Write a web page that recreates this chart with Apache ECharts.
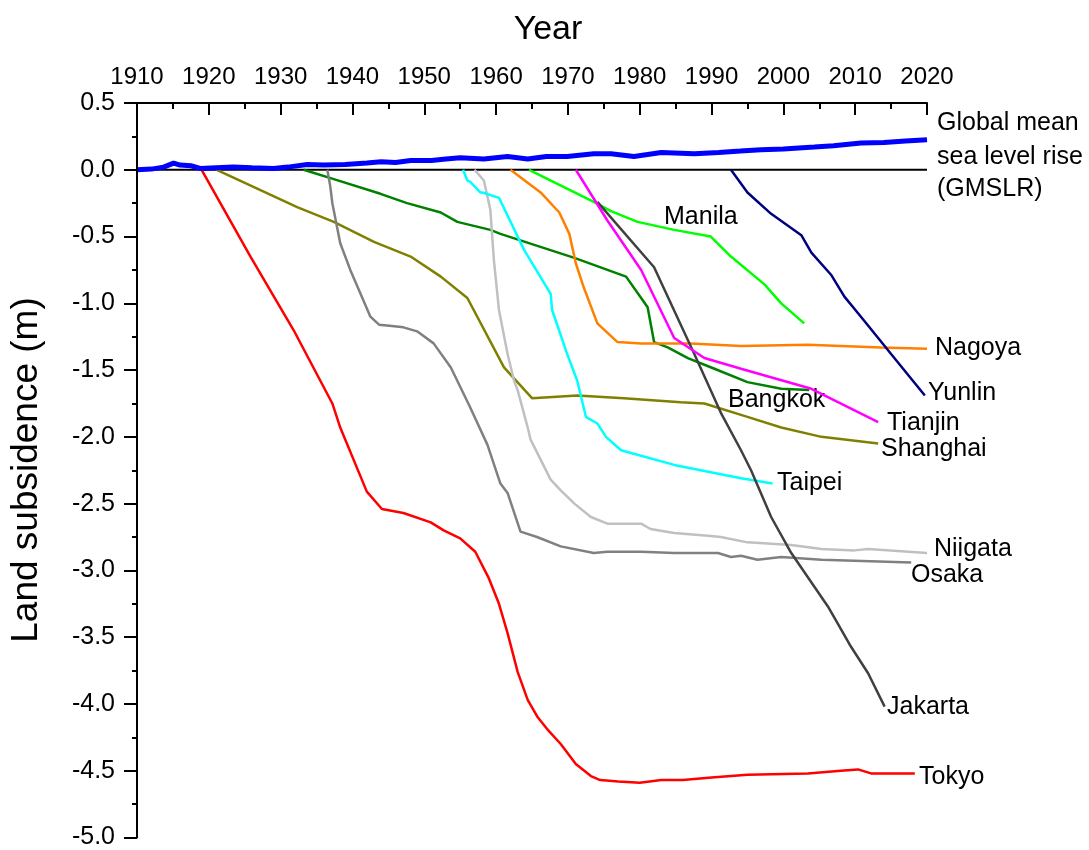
<!DOCTYPE html>
<html>
<head>
<meta charset="utf-8">
<title>Land subsidence and global mean sea level rise</title>
<script src="https://cdn.jsdelivr.net/npm/echarts@6/dist/echarts.min.js"></script>
<style>
  html, body { margin: 0; padding: 0; background: #fff; }
  #chart { width: 1089px; height: 850px; }
</style>
</head>
<body>
<div id="chart"></div>
<script>
// Axis ranges
const yearRange = [1910, 2020];
const yearStep = 10;
const levelRange = [-5.0, 0.5];
const levelStep = 0.5;

// Cumulative land subsidence (m) per city, as [year, value]
const tokyo = [[1919.0,0],[1925.8,-0.65],[1931.8,-1.20],[1937.2,-1.75],[1938.3,-1.93],[1942.0,-2.41],[1944.1,-2.54],[1947.1,-2.57],[1950.9,-2.64],[1952.7,-2.70],[1955.0,-2.76],[1957.1,-2.86],[1959.0,-3.06],[1960.4,-3.25],[1961.6,-3.47],[1963.0,-3.76],[1964.4,-3.97],[1965.8,-4.10],[1967.3,-4.20],[1969.0,-4.30],[1971.1,-4.45],[1973.2,-4.54],[1974.5,-4.57],[1977,-4.58],[1980,-4.59],[1983,-4.57],[1986,-4.57],[1990,-4.55],[1995,-4.53],[2003.4,-4.52],[2008,-4.50],[2010.4,-4.49],[2012.2,-4.52],[2018.3,-4.52]];
const osaka = [[1936.5,0],[1936.9,-0.12],[1937.2,-0.25],[1938.3,-0.55],[1939.7,-0.75],[1942.5,-1.10],[1943.7,-1.16],[1945.5,-1.17],[1947.1,-1.18],[1949.0,-1.21],[1951.3,-1.30],[1953.7,-1.48],[1956.4,-1.78],[1958.8,-2.06],[1960.6,-2.35],[1961.6,-2.42],[1963.4,-2.71],[1965.7,-2.75],[1969.0,-2.82],[1973.6,-2.87],[1975.5,-2.86],[1980.2,-2.86],[1984.8,-2.87],[1990.9,-2.87],[1992.7,-2.90],[1994.1,-2.89],[1996.4,-2.92],[1999.7,-2.90],[2005.3,-2.92],[2017.8,-2.94]];
const niigata = [[1957.0,0],[1958.3,-0.08],[1959.2,-0.30],[1959.7,-0.68],[1960.4,-1.05],[1961.6,-1.38],[1962.5,-1.58],[1963.0,-1.65],[1964.4,-1.93],[1964.8,-2.02],[1966.2,-2.17],[1967.6,-2.32],[1969.0,-2.40],[1970.9,-2.50],[1973.2,-2.60],[1975.5,-2.65],[1977.8,-2.65],[1980.2,-2.65],[1981.5,-2.69],[1984.8,-2.72],[1989.5,-2.74],[1991.3,-2.75],[1995.0,-2.79],[2001.1,-2.81],[2005.3,-2.84],[2009.9,-2.85],[2011.8,-2.84],[2020.0,-2.87]];
const shanghai = [[1921.1,0],[1932.3,-0.28],[1937.4,-0.39],[1943.0,-0.54],[1948.1,-0.65],[1952.3,-0.80],[1956.0,-0.96],[1961.1,-1.48],[1965.0,-1.71],[1971.3,-1.69],[1977.8,-1.71],[1985.7,-1.74],[1989.0,-1.75],[1995.0,-1.85],[1999.7,-1.93],[2005.3,-2.00],[2013.2,-2.05]];
const bangkok = [[1933.2,0],[1937.4,-0.07],[1943.9,-0.18],[1947.6,-0.25],[1952.3,-0.32],[1954.6,-0.39],[1959.2,-0.45],[1960.6,-0.48],[1970.9,-0.66],[1978.1,-0.80],[1981.1,-1.03],[1982.0,-1.29],[1983.9,-1.33],[1986.7,-1.41],[1990.4,-1.49],[1995.0,-1.59],[1999.7,-1.64],[2003.6,-1.65]];
const taipei = [[1955.4,0],[1956.0,-0.08],[1956.4,-0.09],[1957.8,-0.17],[1958.1,-0.17],[1960.4,-0.21],[1963.9,-0.60],[1967.6,-0.93],[1967.8,-1.05],[1969.9,-1.38],[1971.3,-1.58],[1972.5,-1.85],[1974.1,-1.90],[1975.3,-2.00],[1977.4,-2.10],[1984.8,-2.21],[1994.1,-2.31],[1998.5,-2.35]];
const nagoya = [[1962.0,0],[1966.2,-0.17],[1968.8,-0.32],[1970.2,-0.48],[1971.1,-0.70],[1972.2,-0.88],[1974.1,-1.15],[1976.9,-1.29],[1980.2,-1.30],[1987.1,-1.30],[1994.1,-1.32],[2003.4,-1.31],[2013.6,-1.33],[2020.0,-1.34]];
const manila = [[1964.6,0],[1973.6,-0.24],[1976.0,-0.31],[1979.7,-0.39],[1984.8,-0.45],[1989.9,-0.50],[1992.7,-0.65],[1997.4,-0.86],[1999.7,-1.00],[2002.9,-1.15]];
const tianjin = [[1971.1,0],[1975.5,-0.38],[1980.2,-0.75],[1984.8,-1.26],[1989.0,-1.41],[1994.1,-1.49],[2003.9,-1.64],[2013.2,-1.89]];
const jakarta = [[1974.1,-0.24],[1982.0,-0.73],[1987.6,-1.38],[1991.3,-1.82],[1994.1,-2.10],[1995.5,-2.25],[1998.3,-2.60],[2001.1,-2.87],[2006.2,-3.27],[2007.6,-3.40],[2009.4,-3.57],[2011.8,-3.77],[2014.1,-4.02]];
const yunlin = [[1992.7,0],[1995.0,-0.17],[1998.3,-0.33],[2002.5,-0.49],[2003.9,-0.62],[2006.7,-0.79],[2008.5,-0.95],[2010.8,-1.10],[2013.2,-1.26],[2015.0,-1.38],[2019.7,-1.69]];

// Global mean sea level rise (m)
const gmslr = [[1910,0],[1912,0.005],[1913.7,0.02],[1915.1,0.05],[1916,0.035],[1917.5,0.03],[1918.8,0.01],[1921,0.015],[1923.4,0.02],[1926,0.015],[1929,0.01],[1931,0.02],[1933.7,0.04],[1936,0.035],[1939,0.04],[1942,0.05],[1944,0.06],[1946,0.055],[1948.1,0.07],[1951,0.07],[1953,0.08],[1955,0.09],[1958.3,0.08],[1961.6,0.10],[1964.4,0.08],[1967,0.10],[1969.9,0.10],[1973.6,0.12],[1976,0.12],[1979.2,0.10],[1983,0.13],[1987.6,0.12],[1991,0.13],[1994,0.14],[1996.9,0.15],[2000,0.155],[2004.3,0.17],[2007,0.18],[2010.8,0.20],[2014,0.205],[2017,0.215],[2020,0.225]];

const cities = [
  { name: 'Shanghai', data: shanghai, color: '#808000' },
  { name: 'Bangkok',  data: bangkok,  color: '#008000' },
  { name: 'Osaka',    data: osaka,    color: '#808080' },
  { name: 'Niigata',  data: niigata,  color: '#c0c0c0' },
  { name: 'Taipei',   data: taipei,   color: '#00ffff' },
  { name: 'Nagoya',   data: nagoya,   color: '#ff8000' },
  { name: 'Manila',   data: manila,   color: '#00ff00' },
  { name: 'Jakarta',  data: jakarta,  color: '#404040' },
  { name: 'Tianjin',  data: tianjin,  color: '#ff00ff' },
  { name: 'Yunlin',   data: yunlin,   color: '#000080' },
  { name: 'Tokyo',    data: tokyo,    color: '#ff0000' }
];

// Where each name is written (left edge x, vertical centre y)
const labelPlaces = {
  Manila: [664, 217], Nagoya: [935, 348], Yunlin: [928, 393], Tianjin: [887, 423],
  Shanghai: [881, 449], Bangkok: [728, 400], Taipei: [777, 483], Niigata: [934, 549],
  Osaka: [911, 575], Jakarta: [887, 707], Tokyo: [919, 777]
};

const FONT = '"Liberation Sans", Arial, Helvetica, sans-serif';
const INK = '#000000';

const chart = echarts.init(document.getElementById('chart'));

const series = [
  // horizontal reference line at zero
  {
    name: 'zero',
    type: 'line',
    data: [[yearRange[0], 0], [yearRange[1], 0]],
    showSymbol: false,
    silent: true,
    lineStyle: { color: '#000', width: 2 }
  },
  // top frame line along the year axis
  {
    name: 'top frame',
    type: 'line',
    data: [[yearRange[0], levelRange[1]], [yearRange[1], levelRange[1]]],
    showSymbol: false,
    silent: true,
    clip: false,
    z: 6,
    lineStyle: { color: INK, width: 2 }
  }
];
cities.forEach(c => {
  series.push({
    name: c.name,
    type: 'line',
    data: c.data,
    showSymbol: false,
    smooth: false,
    lineStyle: { color: c.color, width: 2.5 }
  });
});
series.push({
  name: 'GMSLR',
  type: 'line',
  data: gmslr,
  showSymbol: false,
  lineStyle: { color: '#0000ff', width: 5 }
});

function textEl(text, x, y, size, extra) {
  return Object.assign({
    type: 'text',
    x: x,
    y: y,
    style: { text: text, fill: '#000', font: size + 'px ' + FONT, textAlign: 'left', textVerticalAlign: 'middle' }
  }, extra || {});
}

const graphics = Object.keys(labelPlaces).map(name =>
  textEl(name, labelPlaces[name][0], labelPlaces[name][1], 25));
['Global mean', 'sea level rise', '(GMSLR)'].forEach((line, i) => {
  graphics.push(textEl(line, 937, [123, 157, 189][i], 25));
});
const yearTitle = textEl('Year', 548, 30, 34);
yearTitle.style.textAlign = 'center';
graphics.push(yearTitle);
const levelTitle = textEl('Land subsidence (m)', 27, 470, 37, { rotation: Math.PI / 2 });
levelTitle.style.textAlign = 'center';
graphics.push(levelTitle);

chart.setOption({
  animation: false,
  grid: { left: 137, right: 162, top: 103, bottom: 12 },
  xAxis: {
    type: 'value',
    position: 'top',
    z: 5,
    min: yearRange[0],
    max: yearRange[1],
    interval: yearStep,
    axisLine: { show: true, onZero: false, lineStyle: { color: INK, width: 2 } },
    axisTick: { show: true, inside: true, length: 12, lineStyle: { color: INK, width: 2 } },
    minorTick: { show: true, splitNumber: 2, length: 6, lineStyle: { color: INK, width: 2 } },
    axisLabel: { color: '#000', fontSize: 24, fontFamily: FONT, margin: 14, formatter: v => String(v) },
    splitLine: { show: false }
  },
  yAxis: {
    type: 'value',
    z: 5,
    min: levelRange[0],
    max: levelRange[1],
    interval: levelStep,
    axisLine: { show: true, onZero: false, lineStyle: { color: INK, width: 2 } },
    axisTick: { show: true, inside: false, length: 13, lineStyle: { color: INK, width: 2 } },
    minorTick: { show: true, splitNumber: 2, length: 5, lineStyle: { color: INK, width: 2 } },
    axisLabel: { color: '#000', fontSize: 25, fontFamily: FONT, margin: 22, formatter: v => v.toFixed(1) },
    splitLine: { show: false }
  },
  graphic: graphics,
  series: series
});
</script>
</body>
</html>
